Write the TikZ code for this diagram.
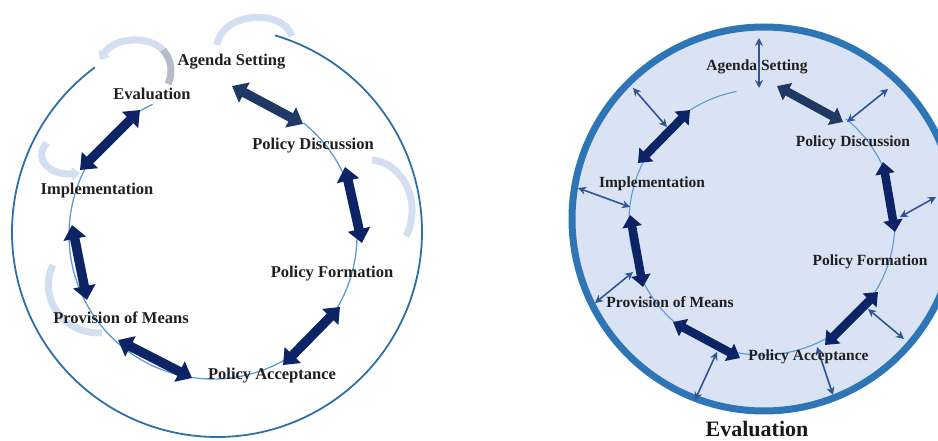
\documentclass[tikz,border=0pt]{standalone}
\usepackage{fontspec}
\setmainfont{Liberation Serif}
\usetikzlibrary{arrows.meta}
\definecolor{navy}{HTML}{0C2366}
\definecolor{slate}{HTML}{1F3864}
\definecolor{midblue}{HTML}{2F5597}
\definecolor{ringblue}{HTML}{2E75B6}
\definecolor{innerblue}{HTML}{5B9BD5}
\definecolor{fillblue}{HTML}{DAE3F3}
\definecolor{ghost}{HTML}{D3DFF0}
\definecolor{ghostgray}{HTML}{B3BCC8}
\definecolor{outerblue}{HTML}{2F6FA8}
\begin{document}
\begin{tikzpicture}[x=1pt,y=-1pt,
  bigarrow/.style={line width=9.5pt, navy, {Triangle[length=14pt,width=22pt]}-{Triangle[length=14pt,width=22pt]}},
  bigarrowR/.style={line width=8.5pt, navy, {Triangle[length=12pt,width=19pt]}-{Triangle[length=12pt,width=19pt]}},
  thinarrow/.style={line width=1.6pt, midblue, {Stealth[length=8pt,width=8pt]}-{Stealth[length=8pt,width=8pt]}},
  lbl/.style={font=\fontsize{16.5}{18}\selectfont\bfseries, text=black!88, inner sep=0pt},
  lblR/.style={font=\fontsize{15.5}{17}\selectfont\bfseries, text=black!88, inner sep=0pt},
  ghostarc/.style={line width=7pt, ghost}]
\useasboundingbox (0,0) rectangle (938,441);
\clip (0,0) rectangle (938,441);

% ================= LEFT DIAGRAM =================
% faint decorative curved arrows
\draw[ghostarc] (217,45) .. controls (222,12) and (282,8) .. (292,36);
\draw[ghostarc, -{Triangle[length=8pt,width=13pt]}] (163,50) .. controls (150,36) and (115,36) .. (100,60);
\draw[line width=7pt, ghostgray] (163,50) .. controls (172,60) and (173,74) .. (168,84);
\draw[ghostarc, -{Triangle[length=8pt,width=13pt]}] (47,143) .. controls (33,157) and (48,176) .. (80,173);
\draw[ghostarc] (372,160) .. controls (405,163) and (422,205) .. (406,236);
\draw[ghostarc] (53,265) .. controls (38,295) and (60,334) .. (102,333);

% outer and inner circles
\draw[outerblue, line width=1.8pt] (217,232) ++(-126.6:205) arc[start angle=-126.6, end angle=-433.6, radius=205];
\draw[innerblue, line width=1.3pt] (213,235) ++(-51.2:144) arc[start angle=-51.2, end angle=245.2, radius=144];

% arrow end points
\coordinate (la1) at (232,86);  \coordinate (la2) at (303,124);
\coordinate (lb1) at (345,167); \coordinate (lb2) at (362,243);
\coordinate (lc1) at (340,307); \coordinate (lc2) at (283,365);
\coordinate (ld1) at (192,378); \coordinate (ld2) at (118,340);
\coordinate (le1) at (87,300);  \coordinate (le2) at (72,225);
\coordinate (lf1) at (80,170);  \coordinate (lf2) at (140,110);

\draw[bigarrow, slate] (la1) -- (la2);
\draw[bigarrow] (lb1) -- (lb2);
\draw[bigarrow] (lc1) -- (lc2);
\draw[bigarrow] (ld1) -- (ld2);
\draw[bigarrow] (le1) -- (le2);
\draw[bigarrow] (lf1) -- (lf2);

% labels
\node[lbl] (agL)  at (231.5,62) {Agenda Setting};
\node[lbl] (evL)  at (152,94)   {Evaluation};
\node[lbl] (pdL)  at (313,146)  {Policy Discussion};
\node[lbl] (imL)  at (97,191)   {Implementation};
\node[lbl] (pfL)  at (332,274)  {Policy Formation};
\node[lbl] (pmL)  at (121,318)  {Provision of Means};
\node[lbl] (paL)  at (272,376)  {Policy Acceptance};

% ================= RIGHT DIAGRAM =================
\draw[ringblue, line width=7pt, fill=fillblue] (764,219) circle[radius=192];
\draw[innerblue, line width=1.1pt] (762,222) ++(-51:133) arc[start angle=-51, end angle=259, radius=133];

\coordinate (ra1) at (777,86);  \coordinate (ra2) at (843,122);
\coordinate (rb1) at (883,162); \coordinate (rb2) at (895,232);
\coordinate (rc1) at (878,292); \coordinate (rc2) at (825,345);
\coordinate (rd1) at (740,358); \coordinate (rd2) at (673,322);
\coordinate (re1) at (643,287); \coordinate (re2) at (630,215);
\coordinate (rf1) at (638,163); \coordinate (rf2) at (690,110);

\draw[bigarrowR, slate] (ra1) -- (ra2);
\draw[bigarrowR] (rb1) -- (rb2);
\draw[bigarrowR] (rc1) -- (rc2);
\draw[bigarrowR] (rd1) -- (rd2);
\draw[bigarrowR] (re1) -- (re2);
\draw[bigarrowR] (rf1) -- (rf2);

% thin radial arrows
\coordinate (ta1) at (759,38);  \coordinate (ta2) at (759,88);
\coordinate (tb1) at (633,88);  \coordinate (tb2) at (667,127);
\coordinate (tc1) at (888,89);  \coordinate (tc2) at (847,122);
\coordinate (td1) at (936,197); \coordinate (td2) at (900,217);
\coordinate (te1) at (578,188); \coordinate (te2) at (630,207);
\coordinate (tf1) at (595,303); \coordinate (tf2) at (633,272);
\coordinate (tg1) at (695,400); \coordinate (tg2) at (717,352);
\coordinate (th1) at (833,395); \coordinate (th2) at (817,347);
\coordinate (ti1) at (904,339); \coordinate (ti2) at (868,309);
\foreach \p in {a,b,c,d,e,f,g,h,i}{\draw[thinarrow] (t\p1) -- (t\p2);}

\node[lblR] (agR) at (757,67)   {Agenda Setting};
\node[lblR] (pdR) at (853,143)  {Policy Discussion};
\node[lblR] (imR) at (652,184)  {Implementation};
\node[lblR] (pfR) at (870,262)  {Policy Formation};
\node[lblR] (pmR) at (670,302)  {Provision of Means};
\node[lblR] (paR) at (808.5,357) {Policy Acceptance};
\node[font=\fontsize{22}{24}\selectfont\bfseries, text=black!90, inner sep=0pt] (evR) at (757,429) {Evaluation};
\end{tikzpicture}
\end{document}
